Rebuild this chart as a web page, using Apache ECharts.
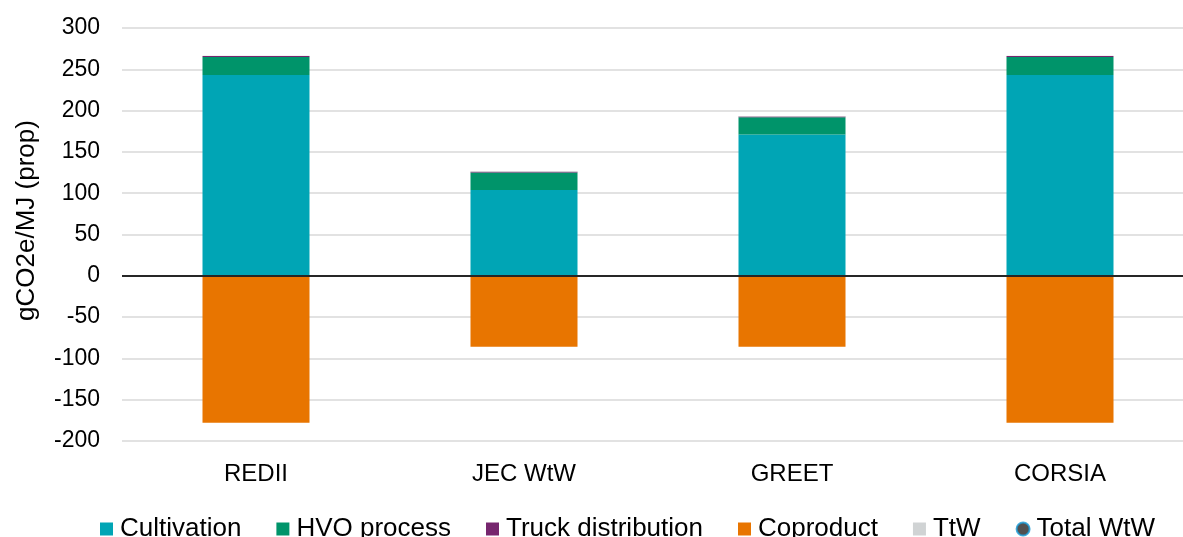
<!DOCTYPE html>
<html>
<head>
<meta charset="utf-8">
<script src="https://cdn.jsdelivr.net/npm/echarts@6/dist/echarts.min.js"></script>
<style>
  html, body { margin: 0; padding: 0; background: #fff; }
  #chart { width: 1183px; height: 537px; }
</style>
</head>
<body>
<div id="chart"></div>
<script>
// chart values
var categories = ['REDII', 'JEC WtW', 'GREET', 'CORSIA'];
var cultivation = [243, 104, 171, 243];
var hvoProcess = [22, 21, 21, 22];
var truckDistribution = [1, 1, 1, 1];
var coproduct = [-178, -86, -86, -178];
var ttw = [0.5, 0.5, 0.5, 0.5];
var totalWtw = []; // shown only in the legend
var yTicks = { min: -200, max: 300, interval: 50 };

var chartDom = document.getElementById('chart');
var myChart = echarts.init(chartDom);

function barSeries(name, data, color) {
    return {
        name: name,
        type: 'bar',
        stack: 'total',
        barWidth: 107,
        data: data,
        itemStyle: { color: color }
    };
}

var option = {
    animation: false,
    textStyle: { fontFamily: 'Liberation Sans, Arial, sans-serif' },
    // plot runs past the right edge of the picture, like the original crop
    grid: { left: 122, width: 1072, top: 28, bottom: 96, outerBoundsMode: 'none', containLabel: false },
    legend: {
        top: 511,
        left: 95,
        itemWidth: 13,
        itemHeight: 13,
        itemGap: 35,
        textStyle: { fontSize: 26, color: '#000', padding: [0, 0, 0, 2] },
        data: [
            { name: 'Cultivation', icon: 'rect' },
            { name: 'HVO process', icon: 'rect' },
            { name: 'Truck distribution', icon: 'rect' },
            { name: 'Coproduct', icon: 'rect' },
            { name: 'TtW', icon: 'rect' },
            { name: 'Total WtW', icon: 'circle' }
        ]
    },
    xAxis: {
        type: 'category',
        data: categories,
        axisLine: { show: false, onZero: false },
        axisTick: { show: false },
        axisLabel: { fontSize: 24, color: '#000', margin: 21 }
    },
    yAxis: {
        type: 'value',
        min: yTicks.min,
        max: yTicks.max,
        interval: yTicks.interval,
        name: 'gCO2e/MJ (prop)',
        nameLocation: 'middle',
        nameGap: 82,
        nameTextStyle: { fontSize: 26, color: '#000', padding: [0, 0, 0, 28] },
        axisLabel: { fontSize: 23, color: '#000', margin: 22 },
        splitLine: { lineStyle: { color: '#d9d9d9', width: 1.5 } }
    },
    series: [
        Object.assign(barSeries('Cultivation', cultivation, '#00a5b5'), {
            markLine: {
                silent: true,
                symbol: 'none',
                label: { show: false },
                lineStyle: { color: '#262626', width: 2, type: 'solid' },
                data: [{ yAxis: 0 }]
            }
        }),
        barSeries('HVO process', hvoProcess, '#00946a'),
        barSeries('Truck distribution', truckDistribution, '#76266e'),
        barSeries('Coproduct', coproduct, '#e87500'),
        barSeries('TtW', ttw, '#d0d3d4'),
        {
            name: 'Total WtW',
            type: 'scatter',
            data: totalWtw,
            symbolSize: 10,
            itemStyle: { color: '#262626', borderColor: '#1a9bd7', borderWidth: 2 }
        }
    ]
};

option && myChart.setOption(option);
</script>
</body>
</html>
